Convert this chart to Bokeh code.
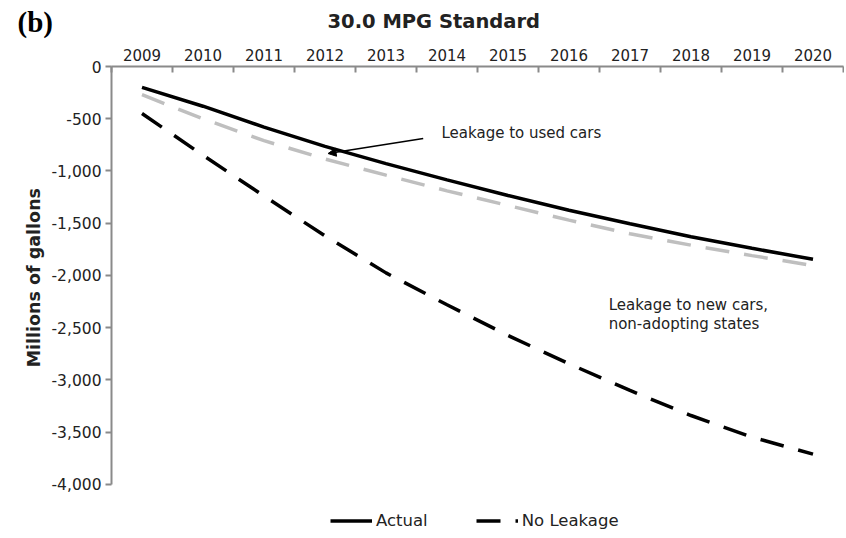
from bokeh.plotting import figure
from bokeh.models import (Range1d, LinearAxis, FixedTicker, NumeralTickFormatter, Title,
                          Label, Arrow, NormalHead, Legend, LegendItem, ColumnDataSource)
from bokeh.embed import file_html
from bokeh.resources import INLINE

# ---- data (millions of gallons) ----
years = [2009, 2010, 2011, 2012, 2013, 2014, 2015, 2016, 2017, 2018, 2019, 2020]
actual = [-200, -380, -580, -765, -930, -1085, -1235, -1375, -1505, -1630, -1740, -1845]
no_used_leakage = [-270, -500, -710, -885, -1040, -1190, -1330, -1470, -1600, -1710, -1810, -1905]
no_leakage = [-450, -850, -1240, -1620, -1975, -2280, -2574, -2845, -3100, -3340, -3547, -3710]
y_ticks = [0, -500, -1000, -1500, -2000, -2500, -3000, -3500, -4000]

FONT = "DejaVu Sans"
TXT = "#222222"
AX = "#8a8a8a"

src = ColumnDataSource(dict(year=years, actual=actual, used=no_used_leakage, none=no_leakage))

# the frame reaches down to the legend row; the y axis itself stops at -4,000
p = figure(width=844, height=536, output_backend="svg", toolbar_location=None,
           x_range=Range1d(2008.5, 2020.5), y_range=Range1d(-4450, 0),
           x_axis_location=None, y_axis_location=None,
           min_border_left=111, min_border_right=1, min_border_top=66,
           min_border_bottom=5)
p.outline_line_color = None
p.xgrid.visible = False
p.ygrid.visible = False

# title and panel tag: zero-height panels next to the frame, text lifted by standoff
t_main = Title(text="30.0 MPG Standard", align="left", vertical_align="top",
               offset=216, standoff=-114, text_font=FONT, text_font_style="bold",
               text_font_size="19.5px", text_color=TXT)
t_tag = Title(text="(b)", align="left", vertical_align="top", offset=-94, standoff=-122,
              text_font="Liberation Serif", text_font_style="bold",
              text_font_size="29px", text_color="black")
p.add_layout(t_main, "above")
p.add_layout(t_tag, "above")

# top category axis
bounds = [y - 0.5 for y in years] + [years[-1] + 0.5]
xax = LinearAxis(ticker=FixedTicker(ticks=years, minor_ticks=bounds))
xax.major_tick_in = 0
xax.major_tick_out = 0
xax.minor_tick_in = 6
xax.minor_tick_out = 0
xax.minor_tick_line_color = AX
xax.minor_tick_line_width = 2
xax.axis_line_color = AX
xax.axis_line_width = 2
xax.major_label_text_font = FONT
xax.major_label_text_font_style = "normal"
xax.major_label_text_font_size = "15px"
xax.major_label_text_color = TXT
xax.major_label_standoff = 6
p.add_layout(xax, "above")

yax = LinearAxis(ticker=FixedTicker(ticks=y_ticks), formatter=NumeralTickFormatter(format="0,0"),
                 bounds=(-4000, 0))
yax.major_tick_in = 0
yax.major_tick_out = 6
yax.minor_tick_line_color = None
yax.major_tick_line_color = AX
yax.major_tick_line_width = 2
yax.axis_line_color = AX
yax.axis_line_width = 2
yax.major_label_text_font = FONT
yax.major_label_text_font_style = "normal"
yax.major_label_text_font_size = "15.5px"
yax.major_label_text_color = TXT
yax.major_label_standoff = 4
# leading no-break spaces centre the visible label on the 0 .. -4,000 span
yax.axis_label = "\u00a0" * 7 + "Millions of gallons"
yax.axis_label_text_font = FONT
yax.axis_label_text_font_style = "bold"
yax.axis_label_text_font_size = "17.5px"
yax.axis_label_text_color = TXT
yax.axis_label_standoff = 5
p.add_layout(yax, "left")

p.line("year", "used", source=src, line_color="#bfbfbf", line_width=3.5, line_dash="24 15")
r_none = p.line("year", "none", source=src, line_color="black", line_width=3.5, line_dash="24 15")
r_act = p.line("year", "actual", source=src, line_color="black", line_width=3.5)

legend = Legend(items=[LegendItem(label="Actual", renderers=[r_act]),
                       LegendItem(label="No Leakage", renderers=[r_none])],
                orientation="horizontal", location=(219, 1),
                glyph_width=42, glyph_height=19, label_standoff=4, spacing=48,
                padding=0, margin=0, border_line_color=None, background_fill_alpha=0,
                label_text_font=FONT, label_text_font_size="16.5px", label_text_color=TXT)
p.add_layout(legend, "center")

p.add_layout(Label(x=2013.91, y=-641, text="Leakage to used cars", text_font=FONT,
                   text_font_size="15px", text_color=TXT, text_baseline="middle"))
p.add_layout(Arrow(x_start=2013.61, y_start=-689, x_end=2012.05, y_end=-833,
                   line_color="black", line_width=1.5,
                   end=NormalHead(size=8, fill_color="black", line_color="black")))
p.add_layout(Label(x=2016.65, y=-2287, text="Leakage to new cars,", text_font=FONT,
                   text_font_size="15px", text_color=TXT, text_baseline="middle"))
p.add_layout(Label(x=2016.65, y=-2469, text="non-adopting states", text_font=FONT,
                   text_font_size="15px", text_color=TXT, text_baseline="middle"))

open("out.html", "w").write(file_html(p, INLINE))
